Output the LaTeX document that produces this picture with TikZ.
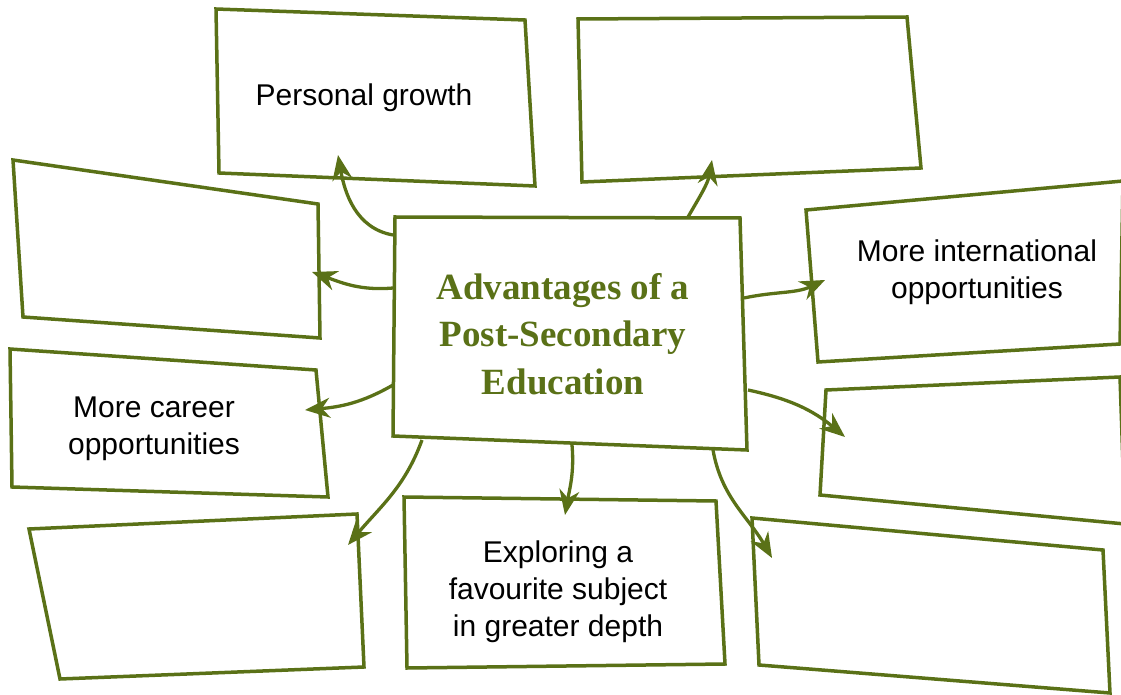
\documentclass[tikz,border=0pt]{standalone}
\usepackage{fontspec}
\setmainfont{Liberation Sans}
\newfontfamily\headfont{Liberation Serif}
\usetikzlibrary{arrows.meta}
\definecolor{leaf}{HTML}{5A7117}

\begin{document}
\begin{tikzpicture}[x=1pt,y=1pt,
  frame/.style={draw=leaf, line width=3.5pt, line join=miter, fill=white},
  link/.style={draw=leaf, line width=3.3pt,
    -{Stealth[length=25pt,width=20pt,inset=8pt]}},
  itemtext/.style={align=center, text=black, inner sep=0pt,
    font=\fontsize{30}{37}\selectfont},
  headtext/.style={align=center, text=leaf, inner sep=0pt,
    font=\headfont\bfseries\fontsize{37}{47.5}\selectfont}]

\clip (0,0) rectangle (1121,694);

% outer boxes (slightly skewed quadrilaterals)
\draw[frame] (216,685) -- (525,674) -- (535,508) -- (219,521) -- cycle;   % personal growth
\draw[frame] (578,675) -- (907,677) -- (921,526) -- (582,512) -- cycle;   % top middle
\draw[frame] (13,534) -- (318,490) -- (320,356) -- (23,377) -- cycle;     % left upper
\draw[frame] (806,484) -- (1123,513) -- (1120,350) -- (818,332) -- cycle; % international
\draw[frame] (10,345) -- (316,324) -- (328,197) -- (12,207) -- cycle;     % career
\draw[frame] (826,304) -- (1120,317) -- (1125,170) -- (820,199) -- cycle; % right middle
\draw[frame] (29,165) -- (357,180) -- (364,27) -- (60,15) -- cycle;       % bottom left
\draw[frame] (404,197) -- (716,193) -- (725,30) -- (407,26) -- cycle;     % exploring
\draw[frame] (752,176) -- (1103,144) -- (1110,1) -- (759,29) -- cycle;    % bottom right

% central box
\draw[frame] (395,477) -- (740,476) -- (747,244) -- (393,258) -- cycle;

% texts
\node[headtext] (hub) at (563,360) {Advantages of a\\Post-Secondary\\Education};
\node[itemtext] (growth) at (364,596) {Personal growth};
\node[itemtext] (intl) at (977,422) {More international\\opportunities};
\node[itemtext] (career) at (154,265) {More career\\opportunities};
\node[itemtext] (explore) at (558,102) {Exploring a\\favourite subject\\in greater depth};

% connector ends
\coordinate (s1) at (393,459); \coordinate (t1) at (338,539);
\coordinate (s2) at (393,406); \coordinate (t2) at (312,422);
\coordinate (s3) at (393,309); \coordinate (t3) at (305,284);
\coordinate (s4) at (422,254); \coordinate (t4) at (348,149);
\coordinate (s5) at (572,249); \coordinate (t5) at (565,179);
\coordinate (s6) at (713,244); \coordinate (t6) at (772,136);
\coordinate (s7) at (748,304); \coordinate (t7) at (845,257);
\coordinate (s8) at (744,396); \coordinate (t8) at (825,414);
\coordinate (s9) at (688,477); \coordinate (t9) at (712,534);

% connectors
\draw[link] (s1) to[out=170,in=-80] (t1);
\draw[link] (s2) to[out=185,in=-20] (t2);
\draw[link] (s3) to[out=210,in=5] (t3);
\draw[link] (s4) to[out=-110,in=50] (t4);
\draw[link] (s5) to[out=-85,in=80] (t5);
\draw[link] (s6) to[out=-80,in=120] (t6);
\draw[link] (s7) to[out=-12,in=140] (t7);
\draw[link] (s8) to[out=12,in=-155] (t8);
\draw[link] (s9) to[out=60,in=-100] (t9);
\end{tikzpicture}
\end{document}
